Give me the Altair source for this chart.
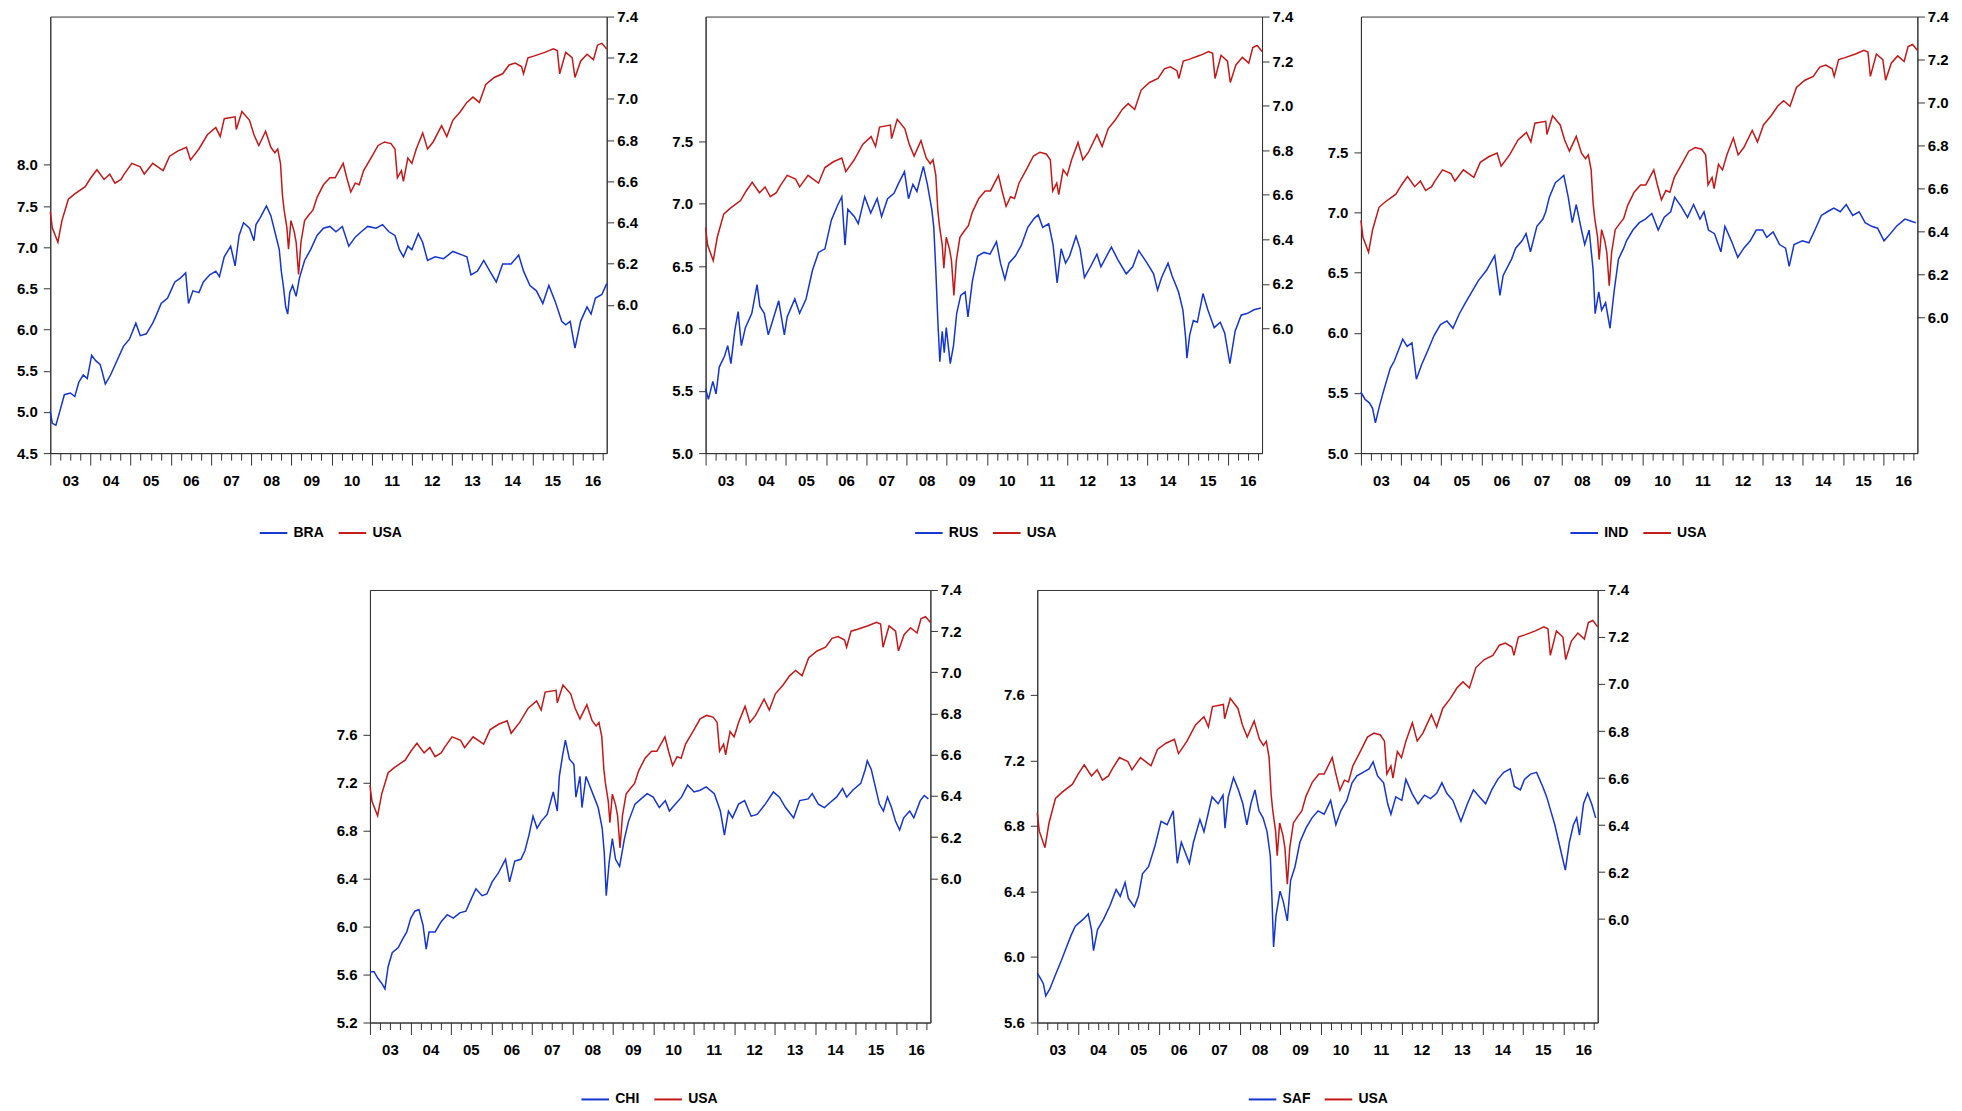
import altair as alt
import pandas as pd

BLUE = "#1535d0"
RED = "#c41818"
FONT = "Liberation Sans, Arial, sans-serif"
AXIS_COLOR = "#333333"

X_DOMAIN = [2003.0, 2016.85]
YEAR_TICKS = list(range(2003, 2017))
QUARTER_TICKS = [y + q for y in range(2003, 2017) for q in (0.25, 0.5, 0.75) if y + q <= 2016.85]
RIGHT_TICKS = [6.0, 6.2, 6.4, 6.6, 6.8, 7.0, 7.2, 7.4]

# ---------------- USA (log index), shared by all panels ----------------
usa_t = [2003.00, 2003.05, 2003.19, 2003.29, 2003.45, 2003.61, 2003.87, 2004.01, 2004.16, 2004.34,
         2004.48, 2004.61, 2004.76, 2004.84, 2005.03, 2005.24, 2005.34, 2005.55, 2005.81, 2005.97,
         2006.18, 2006.39, 2006.49, 2006.70, 2006.91, 2007.12, 2007.23, 2007.33, 2007.60, 2007.63,
         2007.77, 2007.96, 2008.07, 2008.19, 2008.36, 2008.49, 2008.59, 2008.66, 2008.73, 2008.78,
         2008.82, 2008.89, 2008.93, 2008.99, 2009.07, 2009.12, 2009.18, 2009.24, 2009.33, 2009.43,
         2009.54, 2009.64, 2009.80, 2009.96, 2010.09, 2010.29, 2010.38, 2010.48, 2010.59, 2010.69,
         2010.80, 2011.01, 2011.16, 2011.32, 2011.48, 2011.58, 2011.64, 2011.74, 2011.79, 2011.90,
         2012.00, 2012.11, 2012.27, 2012.39, 2012.53, 2012.74, 2012.87, 2013.02, 2013.21, 2013.37,
         2013.52, 2013.68, 2013.84, 2014.05, 2014.26, 2014.42, 2014.57, 2014.73, 2014.78, 2014.89,
         2015.05, 2015.31, 2015.52, 2015.62, 2015.68, 2015.83, 2015.99, 2016.06, 2016.20, 2016.36,
         2016.52, 2016.62, 2016.73, 2016.85]
usa_v = [6.452, 6.374, 6.304, 6.409, 6.513, 6.539, 6.574, 6.617, 6.656, 6.609,
         6.635, 6.591, 6.609, 6.635, 6.687, 6.670, 6.635, 6.687, 6.652, 6.722,
         6.748, 6.765, 6.704, 6.757, 6.826, 6.861, 6.817, 6.904, 6.913, 6.852,
         6.939, 6.896, 6.826, 6.774, 6.843, 6.765, 6.739, 6.757, 6.687, 6.530,
         6.461, 6.374, 6.270, 6.409, 6.357, 6.304, 6.148, 6.304, 6.409, 6.435,
         6.461, 6.522, 6.583, 6.617, 6.617, 6.687, 6.617, 6.548, 6.591, 6.583,
         6.652, 6.722, 6.774, 6.791, 6.783, 6.757, 6.617, 6.652, 6.600, 6.713,
         6.687, 6.757, 6.835, 6.757, 6.791, 6.870, 6.817, 6.896, 6.939, 6.983,
         7.009, 6.983, 7.070, 7.104, 7.122, 7.165, 7.174, 7.157, 7.122, 7.200,
         7.209, 7.226, 7.243, 7.235, 7.122, 7.226, 7.200, 7.104, 7.183, 7.217,
         7.191, 7.261, 7.270, 7.243]

# ---------------- BRA ----------------
bra_t = [2003.00, 2003.05, 2003.14, 2003.24, 2003.35, 2003.50, 2003.61, 2003.71, 2003.82, 2003.92,
         2004.03, 2004.13, 2004.24, 2004.29, 2004.37, 2004.50, 2004.66, 2004.82, 2004.97, 2005.13,
         2005.24, 2005.39, 2005.55, 2005.65, 2005.76, 2005.92, 2006.02, 2006.10, 2006.23, 2006.37,
         2006.44, 2006.55, 2006.70, 2006.81, 2006.97, 2007.12, 2007.21, 2007.33, 2007.49, 2007.60,
         2007.70, 2007.81, 2007.96, 2008.07, 2008.12, 2008.23, 2008.38, 2008.49, 2008.59, 2008.70,
         2008.75, 2008.80, 2008.86, 2008.91, 2008.96, 2009.03, 2009.12, 2009.20, 2009.33, 2009.48,
         2009.64, 2009.80, 2009.96, 2010.11, 2010.27, 2010.43, 2010.59, 2010.74, 2010.90, 2011.11,
         2011.27, 2011.43, 2011.58, 2011.69, 2011.79, 2011.90, 2012.00, 2012.16, 2012.27, 2012.39,
         2012.58, 2012.79, 2013.02, 2013.26, 2013.37, 2013.47, 2013.63, 2013.79, 2013.94, 2014.10,
         2014.26, 2014.47, 2014.66, 2014.78, 2014.94, 2015.10, 2015.26, 2015.41, 2015.57, 2015.73,
         2015.83, 2015.94, 2016.06, 2016.20, 2016.36, 2016.46, 2016.57, 2016.73, 2016.85]
bra_v = [5.013, 4.861, 4.839, 5.013, 5.209, 5.230, 5.187, 5.361, 5.448, 5.404,
         5.687, 5.622, 5.578, 5.491, 5.339, 5.448, 5.622, 5.796, 5.883, 6.078,
         5.926, 5.948, 6.078, 6.187, 6.317, 6.383, 6.491, 6.578, 6.622, 6.687,
         6.317, 6.470, 6.448, 6.578, 6.665, 6.709, 6.643, 6.883, 7.013, 6.774,
         7.143, 7.296, 7.230, 7.078, 7.274, 7.361, 7.500, 7.383, 7.187, 6.970,
         6.709, 6.535, 6.274, 6.187, 6.448, 6.535, 6.404, 6.622, 6.839, 6.970,
         7.143, 7.230, 7.252, 7.187, 7.252, 7.013, 7.122, 7.187, 7.252, 7.230,
         7.274, 7.187, 7.143, 6.970, 6.883, 7.013, 6.970, 7.165, 7.057, 6.839,
         6.883, 6.861, 6.948, 6.904, 6.883, 6.665, 6.709, 6.839, 6.709, 6.578,
         6.796, 6.796, 6.904, 6.709, 6.535, 6.470, 6.317, 6.535, 6.339, 6.100,
         6.057, 6.100, 5.774, 6.100, 6.274, 6.187, 6.383, 6.426, 6.557]

# ---------------- RUS ----------------
rus_t = [2003.00, 2003.07, 2003.18, 2003.26, 2003.34, 2003.47, 2003.55, 2003.63, 2003.73, 2003.81,
         2003.89, 2003.99, 2004.15, 2004.28, 2004.35, 2004.46, 2004.56, 2004.67, 2004.82, 2004.96,
         2005.03, 2005.22, 2005.34, 2005.50, 2005.66, 2005.81, 2005.97, 2006.13, 2006.28, 2006.39,
         2006.47, 2006.54, 2006.70, 2006.80, 2006.96, 2007.11, 2007.27, 2007.38, 2007.53, 2007.69,
         2007.79, 2007.95, 2008.05, 2008.16, 2008.26, 2008.42, 2008.52, 2008.63, 2008.68, 2008.73,
         2008.78, 2008.83, 2008.89, 2008.94, 2008.99, 2009.09, 2009.17, 2009.25, 2009.35, 2009.46,
         2009.53, 2009.64, 2009.77, 2009.93, 2010.08, 2010.24, 2010.34, 2010.45, 2010.55, 2010.71,
         2010.86, 2011.02, 2011.18, 2011.28, 2011.39, 2011.54, 2011.65, 2011.75, 2011.85, 2011.96,
         2012.06, 2012.22, 2012.32, 2012.43, 2012.58, 2012.74, 2012.84, 2013.10, 2013.26, 2013.47,
         2013.63, 2013.78, 2013.99, 2014.15, 2014.25, 2014.35, 2014.51, 2014.61, 2014.77, 2014.88,
         2014.95, 2014.98, 2015.05, 2015.14, 2015.24, 2015.38, 2015.50, 2015.66, 2015.81, 2015.92,
         2016.05, 2016.18, 2016.33, 2016.49, 2016.65, 2016.82]
rus_v = [5.517, 5.431, 5.575, 5.474, 5.690, 5.776, 5.862, 5.718, 5.991, 6.135,
         5.862, 6.006, 6.121, 6.351, 6.178, 6.121, 5.948, 6.063, 6.221, 5.948,
         6.092, 6.236, 6.121, 6.236, 6.466, 6.609, 6.638, 6.868, 6.983, 7.055,
         6.667, 6.954, 6.897, 6.839, 7.055, 6.925, 7.040, 6.897, 7.040, 7.083,
         7.155, 7.256, 7.040, 7.155, 7.098, 7.299, 7.155, 6.954, 6.810, 6.466,
         6.063, 5.733, 5.977, 5.805, 6.006, 5.718, 5.862, 6.121, 6.264, 6.293,
         6.092, 6.379, 6.580, 6.609, 6.595, 6.695, 6.523, 6.394, 6.523, 6.580,
         6.667, 6.810, 6.882, 6.911, 6.810, 6.839, 6.667, 6.365, 6.638, 6.523,
         6.580, 6.739, 6.638, 6.408, 6.494, 6.595, 6.494, 6.652, 6.552, 6.437,
         6.494, 6.624, 6.523, 6.437, 6.307, 6.408, 6.523, 6.422, 6.293, 6.149,
         5.920, 5.761, 5.948, 6.063, 6.049, 6.279, 6.149, 6.006, 6.049, 5.963,
         5.718, 5.977, 6.106, 6.121, 6.149, 6.164]

# ---------------- IND ----------------
ind_t = [2003.00, 2003.10, 2003.21, 2003.29, 2003.36, 2003.47, 2003.57, 2003.73, 2003.83, 2004.04,
         2004.15, 2004.27, 2004.38, 2004.51, 2004.67, 2004.82, 2004.98, 2005.14, 2005.29, 2005.45,
         2005.60, 2005.76, 2005.92, 2006.13, 2006.33, 2006.46, 2006.54, 2006.75, 2006.85, 2007.01,
         2007.11, 2007.22, 2007.38, 2007.53, 2007.60, 2007.69, 2007.84, 2007.95, 2008.05, 2008.16,
         2008.26, 2008.36, 2008.47, 2008.57, 2008.68, 2008.78, 2008.83, 2008.92, 2008.99, 2009.09,
         2009.20, 2009.30, 2009.41, 2009.54, 2009.61, 2009.77, 2009.93, 2010.08, 2010.24, 2010.40,
         2010.55, 2010.71, 2010.81, 2010.97, 2011.13, 2011.28, 2011.44, 2011.54, 2011.65, 2011.80,
         2011.96, 2012.06, 2012.22, 2012.38, 2012.53, 2012.69, 2012.84, 2013.00, 2013.10, 2013.26,
         2013.42, 2013.57, 2013.66, 2013.78, 2013.99, 2014.15, 2014.30, 2014.46, 2014.61, 2014.77,
         2014.93, 2015.08, 2015.24, 2015.40, 2015.55, 2015.71, 2015.86, 2016.02, 2016.18, 2016.33,
         2016.54, 2016.81]
ind_v = [5.508, 5.448, 5.418, 5.372, 5.251, 5.403, 5.524, 5.705, 5.766, 5.947,
         5.887, 5.917, 5.614, 5.735, 5.857, 5.978, 6.068, 6.099, 6.038, 6.159,
         6.250, 6.341, 6.432, 6.522, 6.643, 6.311, 6.477, 6.613, 6.704, 6.765,
         6.825, 6.674, 6.886, 6.946, 7.007, 7.128, 7.249, 7.279, 7.309, 7.128,
         6.916, 7.067, 6.886, 6.734, 6.855, 6.522, 6.159, 6.341, 6.189, 6.250,
         6.038, 6.341, 6.613, 6.704, 6.765, 6.855, 6.916, 6.946, 6.992, 6.855,
         6.961, 7.007, 7.128, 7.052, 6.961, 7.067, 6.946, 7.007, 6.855, 6.825,
         6.674, 6.886, 6.765, 6.628, 6.704, 6.765, 6.855, 6.855, 6.795, 6.840,
         6.734, 6.704, 6.553, 6.734, 6.765, 6.749, 6.855, 6.976, 7.007, 7.037,
         7.007, 7.067, 6.976, 7.007, 6.916, 6.886, 6.870, 6.765, 6.825, 6.886,
         6.946, 6.916]

# ---------------- CHI ----------------
chi_t = [2003.00, 2003.10, 2003.20, 2003.30, 2003.37, 2003.45, 2003.55, 2003.70, 2003.81, 2003.91,
         2004.01, 2004.11, 2004.21, 2004.31, 2004.39, 2004.46, 2004.61, 2004.76, 2004.91, 2005.06,
         2005.22, 2005.37, 2005.52, 2005.62, 2005.77, 2005.89, 2006.02, 2006.17, 2006.35, 2006.45,
         2006.58, 2006.73, 2006.83, 2006.93, 2007.03, 2007.13, 2007.23, 2007.38, 2007.53, 2007.63,
         2007.68, 2007.76, 2007.83, 2007.93, 2008.04, 2008.09, 2008.19, 2008.24, 2008.34, 2008.44,
         2008.54, 2008.64, 2008.74, 2008.79, 2008.84, 2008.91, 2008.99, 2009.07, 2009.17, 2009.29,
         2009.39, 2009.55, 2009.70, 2009.85, 2010.00, 2010.15, 2010.30, 2010.40, 2010.55, 2010.70,
         2010.85, 2011.01, 2011.16, 2011.31, 2011.51, 2011.66, 2011.76, 2011.86, 2011.96, 2012.11,
         2012.26, 2012.42, 2012.57, 2012.77, 2012.97, 2013.12, 2013.27, 2013.47, 2013.62, 2013.83,
         2013.93, 2014.08, 2014.23, 2014.38, 2014.53, 2014.68, 2014.78, 2014.93, 2015.13, 2015.24,
         2015.29, 2015.39, 2015.49, 2015.59, 2015.69, 2015.79, 2015.89, 2015.99, 2016.09, 2016.19,
         2016.34, 2016.44, 2016.60, 2016.70, 2016.80]
chi_v = [5.624, 5.624, 5.567, 5.523, 5.480, 5.668, 5.783, 5.826, 5.898, 5.956,
         6.071, 6.129, 6.143, 6.014, 5.812, 5.956, 5.956, 6.042, 6.100, 6.071,
         6.115, 6.129, 6.244, 6.316, 6.259, 6.273, 6.374, 6.446, 6.562, 6.374,
         6.547, 6.562, 6.634, 6.764, 6.922, 6.821, 6.879, 6.937, 7.124, 6.965,
         7.254, 7.427, 7.557, 7.398, 7.355, 7.081, 7.254, 6.994, 7.254, 7.167,
         7.081, 6.994, 6.821, 6.619, 6.259, 6.533, 6.735, 6.562, 6.504, 6.735,
         6.879, 7.023, 7.066, 7.110, 7.081, 6.994, 7.052, 6.965, 7.023, 7.081,
         7.182, 7.124, 7.139, 7.167, 7.110, 6.965, 6.764, 6.965, 6.908, 7.023,
         7.052, 6.922, 6.937, 7.023, 7.124, 7.081, 6.994, 6.908, 7.052, 7.066,
         7.110, 7.023, 6.994, 7.038, 7.081, 7.153, 7.081, 7.139, 7.196, 7.312,
         7.384, 7.312, 7.167, 7.023, 6.965, 7.081, 6.994, 6.879, 6.807, 6.908,
         6.965, 6.908, 7.052, 7.095, 7.066]

# ---------------- SAF ----------------
saf_t = [2003.00, 2003.08, 2003.15, 2003.21, 2003.31, 2003.43, 2003.59, 2003.69, 2003.84, 2003.94,
         2004.04, 2004.14, 2004.26, 2004.34, 2004.39, 2004.49, 2004.64, 2004.80, 2004.95, 2005.05,
         2005.17, 2005.25, 2005.40, 2005.50, 2005.60, 2005.75, 2005.91, 2006.06, 2006.21, 2006.36,
         2006.46, 2006.56, 2006.66, 2006.76, 2006.86, 2007.02, 2007.12, 2007.22, 2007.32, 2007.47,
         2007.59, 2007.64, 2007.72, 2007.85, 2007.97, 2008.08, 2008.18, 2008.28, 2008.38, 2008.48,
         2008.58, 2008.68, 2008.76, 2008.80, 2008.84, 2008.90, 2009.00, 2009.08, 2009.18, 2009.26,
         2009.37, 2009.49, 2009.64, 2009.79, 2009.94, 2010.09, 2010.25, 2010.38, 2010.50, 2010.65,
         2010.78, 2010.90, 2011.05, 2011.20, 2011.30, 2011.41, 2011.56, 2011.66, 2011.74, 2011.86,
         2012.01, 2012.11, 2012.26, 2012.41, 2012.57, 2012.72, 2012.87, 2013.00, 2013.12, 2013.27,
         2013.47, 2013.63, 2013.78, 2013.93, 2014.08, 2014.23, 2014.38, 2014.53, 2014.69, 2014.79,
         2014.94, 2015.04, 2015.19, 2015.34, 2015.49, 2015.59, 2015.69, 2015.79, 2015.89, 2015.97,
         2016.05, 2016.15, 2016.25, 2016.33, 2016.40, 2016.50, 2016.60, 2016.70, 2016.80]
saf_v = [5.901, 5.869, 5.837, 5.762, 5.805, 5.879, 5.975, 6.039, 6.135, 6.188,
         6.210, 6.231, 6.263, 6.167, 6.039, 6.167, 6.231, 6.316, 6.412, 6.370,
         6.455, 6.359, 6.306, 6.370, 6.508, 6.551, 6.679, 6.828, 6.807, 6.892,
         6.572, 6.700, 6.636, 6.572, 6.700, 6.839, 6.764, 6.871, 6.977, 6.935,
         6.988, 6.786, 6.977, 7.095, 7.020, 6.935, 6.807, 6.935, 7.020, 6.892,
         6.849, 6.764, 6.615, 6.359, 6.061, 6.252, 6.402, 6.338, 6.220, 6.466,
         6.551, 6.700, 6.786, 6.849, 6.892, 6.871, 6.956, 6.807, 6.892, 6.956,
         7.063, 7.105, 7.127, 7.148, 7.191, 7.105, 7.063, 6.935, 6.871, 6.977,
         6.956, 7.084, 6.999, 6.935, 6.988, 6.967, 6.999, 7.063, 6.999, 6.956,
         6.828, 6.935, 7.020, 6.977, 6.935, 7.020, 7.084, 7.127, 7.148, 7.041,
         7.020, 7.084, 7.116, 7.127, 7.041, 6.977, 6.892, 6.807, 6.700, 6.615,
         6.530, 6.700, 6.807, 6.849, 6.743, 6.935, 6.999, 6.935, 6.849]

# panel settings: name, dates, values, left domain, left ticks, right domain
PANELS = [
    ("BRA", bra_t, bra_v, [4.5, 9.8], [4.5, 5.0, 5.5, 6.0, 6.5, 7.0, 7.5, 8.0], [5.28, 7.4]),
    ("RUS", rus_t, rus_v, [5.0, 8.5], [5.0, 5.5, 6.0, 6.5, 7.0, 7.5], [5.44, 7.4]),
    ("IND", ind_t, ind_v, [5.0, 8.63], [5.0, 5.5, 6.0, 6.5, 7.0, 7.5], [5.37, 7.4]),
    ("CHI", chi_t, chi_v, [5.2, 8.81], [5.2, 5.6, 6.0, 6.4, 6.8, 7.2, 7.6], [5.30, 7.4]),
    ("SAF", saf_t, saf_v, [5.6, 8.24], [5.6, 6.0, 6.4, 6.8, 7.2, 7.6], [5.56, 7.4]),
]


def make_panel(name, t, v, ldom, lticks, rdom, w, h, leg_dy):
    df_c = pd.DataFrame({"t": t, "v": v, "series": name})
    df_u = pd.DataFrame({"t": usa_t, "v": usa_v, "series": "USA"})
    color = alt.Color(
        "series:N",
        scale=alt.Scale(domain=[name, "USA"], range=[BLUE, RED]),
        legend=alt.Legend(
            title=None, orient="none", direction="horizontal",
            legendX=w / 2 - 70, legendY=h + leg_dy,
            symbolType="stroke", symbolSize=760, symbolStrokeWidth=2,
            labelFont=FONT, labelFontSize=14, labelFontWeight="bold",
            labelColor="black", columnPadding=10, labelOffset=5,
        ),
    )
    xscale = alt.Scale(domain=X_DOMAIN, nice=False, zero=False)
    country = alt.Chart(df_c).mark_line(strokeWidth=1.5).encode(
        x=alt.X("t:Q", scale=xscale, axis=alt.Axis(
            orient="bottom", values=YEAR_TICKS, tickSize=12, format="d",
            labelExpr="slice(datum.label, 2)", labelOffset=20, labelPadding=8,
            labelFlush=False, labelOverlap=False, grid=False, title=None)),
        y=alt.Y("v:Q", scale=alt.Scale(domain=ldom, nice=False, zero=False), axis=alt.Axis(
            orient="left", values=lticks, format=".1f", tickSize=7, labelPadding=6,
            grid=False, title=None)),
        color=color,
    )
    usa = alt.Chart(df_u).mark_line(strokeWidth=1.5).encode(
        x=alt.X("t:Q", scale=xscale, axis=alt.Axis(
            orient="bottom", values=QUARTER_TICKS, tickSize=7, labels=False,
            domain=False, grid=False, title=None)),
        y=alt.Y("v:Q", scale=alt.Scale(domain=rdom, nice=False, zero=False), axis=alt.Axis(
            orient="right", values=RIGHT_TICKS, format=".1f", tickSize=7, labelPadding=3,
            grid=False, title=None)),
        color=color,
    )
    return (
        alt.layer(country, usa)
        .resolve_scale(y="independent")
        .resolve_axis(x="independent")
        .properties(width=w, height=h)
    )


p = [make_panel(n, t, v, ld, lt, rd,
                557 if i < 3 else 561, 437 if i < 3 else 433, 65 if i < 3 else 62)
     for i, (n, t, v, ld, lt, rd) in enumerate(PANELS)]

row1 = alt.hconcat(p[0], p[1], p[2], spacing=32).resolve_scale(color="independent").resolve_legend(color="independent")
row2 = alt.hconcat(p[3], p[4], spacing=40).resolve_scale(color="independent").resolve_legend(color="independent")

chart = (
    alt.vconcat(row1, row2, spacing=41, center=True)
    .resolve_scale(color="independent")
    .resolve_legend(color="independent")
    .properties(padding={"left": 7, "top": 0, "right": 5, "bottom": 5}, background="white")
    .configure_view(stroke=AXIS_COLOR, strokeWidth=1)
    .configure_axis(
        domainColor=AXIS_COLOR, tickColor=AXIS_COLOR, labelColor="black",
        labelFont=FONT, labelFontSize=15, labelFontWeight="bold",
        domainWidth=1, tickWidth=1,
    )
)

chart.save("out.html", embed_options={"renderer": "svg", "actions": False})
